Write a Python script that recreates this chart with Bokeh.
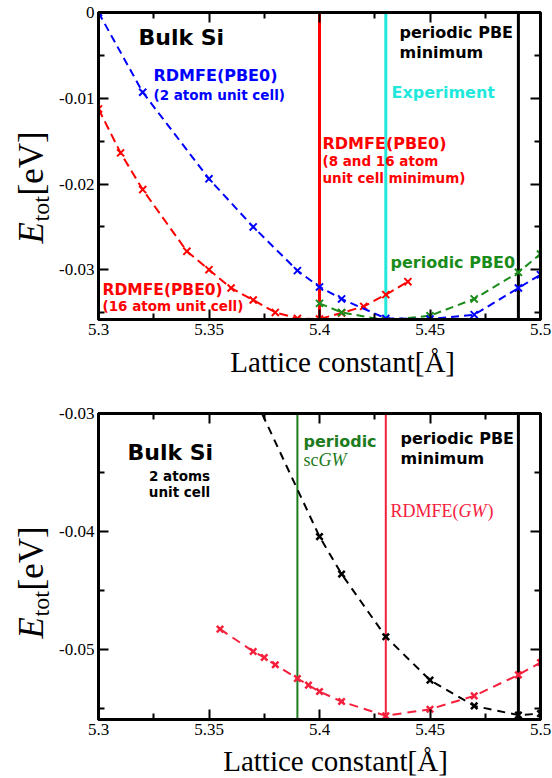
import math
from bokeh.plotting import figure
from bokeh.layouts import column, row
from bokeh.models import Range1d, FixedTicker, CustomJSTickFormatter, LinearAxis, Span, Label
from bokeh.embed import file_html
from bokeh.resources import INLINE

# ---------------- data ----------------
# top panel
a_2atom = [5.30, 5.32, 5.35, 5.37, 5.39, 5.40, 5.41, 5.43, 5.45, 5.47, 5.49, 5.50]
e_2atom = [0.0, -0.0093, -0.0194, -0.0250, -0.0301, -0.0320, -0.0334, -0.03567, -0.03575, -0.03524, -0.03213, -0.03057]

a_16atom = [5.30, 5.31, 5.32, 5.34, 5.35, 5.36, 5.37, 5.38, 5.39, 5.40, 5.41, 5.42, 5.43, 5.44]
e_16atom = [-0.01124, -0.01637, -0.02065, -0.02785, -0.02999, -0.03213, -0.03353, -0.03497, -0.03567, -0.03574,
            -0.03504, -0.03427, -0.0329, -0.03139]

a_pbe0 = [5.40, 5.41, 5.43, 5.45, 5.47, 5.49, 5.50]
e_pbe0 = [-0.03392, -0.03497, -0.0359, -0.03536, -0.0334, -0.0303, -0.02816]

vline_top_rdmfe = 5.40
vline_top_exp = 5.43
vline_top_pbe = 5.49

# bottom panel
a_pbe = [5.35, 5.40, 5.41, 5.43, 5.45, 5.47, 5.49, 5.50]
e_pbe = [-0.0204, -0.04042, -0.04359, -0.0489, -0.05257, -0.05475, -0.05553, -0.0554]

a_rgw = [5.355, 5.37, 5.375, 5.38, 5.39, 5.395, 5.40, 5.41, 5.43, 5.45, 5.47, 5.49, 5.50]
e_rgw = [-0.04825, -0.05014, -0.05065, -0.05127, -0.05243, -0.05299, -0.05353, -0.05438, -0.05559, -0.05503,
         -0.0539, -0.05212, -0.05108]

vline_bot_scgw = 5.39
vline_bot_rgw = 5.43
vline_bot_pbe = 5.49

# ticks
x_major = [5.3, 5.35, 5.4, 5.45, 5.5]
x_minor = [5.325, 5.375, 5.425, 5.475]
y1_major = [0.0, -0.01, -0.02, -0.03]
y1_minor = [-0.005, -0.015, -0.025, -0.035]
y2_major = [-0.03, -0.04, -0.05]
y2_minor = [-0.035, -0.045, -0.055]

X_RANGE = (5.3, 5.5)
Y1_RANGE = (-0.0358, 0.0)
Y2_RANGE = (-0.0559, -0.03)

# ---------------- styling ----------------
BLUE = "#0000ff"
RED = "#ff0000"
GREEN = "#1a8c1a"
CYAN = "#22e8dc"
PINK = "#f5203c"
DGREEN = "#1e7b1e"
SANS = "DejaVu Sans"
SERIF = "Liberation Serif"

YLAB_W = 56          # width of the y-title strip
MAIN_W = 496         # width of each main figure
BL, BR = 42, 12      # borders left/right of main figures -> frame x 98..540
FRAME_X0 = YLAB_W + BL
FRAME_X1 = YLAB_W + MAIN_W - BR


def make_fig(height, bt, bb, yr, ymaj, ymin):
    p = figure(width=MAIN_W, height=height, x_range=Range1d(*X_RANGE), y_range=Range1d(*yr),
               output_backend="svg", toolbar_location=None,
               min_border_left=BL, min_border_right=BR, min_border_top=bt, min_border_bottom=bb)
    p.xgrid.visible = False
    p.ygrid.visible = False
    p.outline_line_color = "black"
    p.outline_line_width = 3
    p.background_fill_color = "white"
    p.border_fill_color = "white"
    fmt = CustomJSTickFormatter(code="return String(parseFloat(tick.toFixed(3)));")
    blank = CustomJSTickFormatter(code="return '';")
    p.add_layout(LinearAxis(), "above")
    p.add_layout(LinearAxis(), "right")
    for ax in p.xaxis:
        ax.ticker = FixedTicker(ticks=x_major, minor_ticks=x_minor)
    for ax in p.yaxis:
        ax.ticker = FixedTicker(ticks=ymaj, minor_ticks=ymin)
    for ax in p.axis:
        ax.formatter = fmt
        ax.axis_line_width = 3
        ax.axis_line_color = "black"
        ax.major_tick_in = 10
        ax.major_tick_out = 0
        ax.minor_tick_in = 6
        ax.minor_tick_out = 0
        ax.major_tick_line_width = 2
        ax.minor_tick_line_width = 2
        ax.major_tick_line_color = "black"
        ax.minor_tick_line_color = "black"
        ax.major_label_text_font = SERIF
        ax.major_label_text_font_size = "17px"
        ax.major_label_text_color = "black"
        ax.major_label_standoff = 4
    for ax in p.above + p.right:
        ax.formatter = blank
        ax.major_label_text_font_size = "0px"
        ax.major_label_standoff = 0
    return p


def strip(w, h):
    """plain figure whose data units are pixels from its top-left corner; used for axis titles"""
    s = figure(width=w, height=h, x_range=Range1d(0, w), y_range=Range1d(h, 0),
               output_backend="svg", toolbar_location=None, x_axis_type=None, y_axis_type=None,
               min_border=0, min_border_left=0, min_border_right=0, min_border_top=0, min_border_bottom=0)
    s.xgrid.visible = False
    s.ygrid.visible = False
    s.outline_line_color = None
    s.background_fill_color = "white"
    s.border_fill_color = "white"
    return s


def conv(frame_top, frame_bot, yr):
    """image px -> data, for annotations inside a main figure"""
    def dx(px):
        return X_RANGE[0] + (px - FRAME_X0) / (FRAME_X1 - FRAME_X0) * (X_RANGE[1] - X_RANGE[0])

    def dy(py):
        return yr[1] - (py - frame_top) / (frame_bot - frame_top) * (yr[1] - yr[0])
    return dx, dy


def txt(p, dx, dy, px, py, text, color="black", size="16px", font=SANS, style="bold",
        align="left", baseline="middle", angle=0.0):
    p.add_layout(Label(x=dx(px), y=dy(py), text=text, text_color=color, text_font_size=size,
                       text_font=font, text_font_style=style, text_align=align,
                       text_baseline=baseline, angle=angle))


def curve(p, xs, ys, color, dash="8 5", size=10, lw=2):
    p.line(xs, ys, line_color=color, line_width=2, line_dash=dash)
    p.scatter(xs, ys, marker="x", size=size, line_color=color, line_width=lw)


ident = lambda v: v


def ytitle(s, y_start):
    # rotated pieces: E (italic), subscript tot, [eV]; x is the vertical centre line of each piece
    txt(s, ident, ident, 31, y_start, "E", size="35px", font=SERIF, style="italic", angle=math.pi / 2)
    txt(s, ident, ident, 40, y_start - 22, "tot", size="24px", font=SERIF, style="normal", angle=math.pi / 2)
    txt(s, ident, ident, 31, y_start - 48, "[eV]", size="35px", font=SERIF, style="normal", angle=math.pi / 2)


def xtitle(s, cx, cy):
    txt(s, ident, ident, cx, cy, "Lattice constant[Å]", size="29px", font=SERIF, style="normal",
        align="center")


# ---------------- top panel (image y 0..385) ----------------
T1_TOP, T1_FRAME_H, T1_BOT = 12, 307, 26
p1 = make_fig(T1_TOP + T1_FRAME_H + T1_BOT, T1_TOP, T1_BOT, Y1_RANGE, y1_major, y1_minor)
for loc, col in [(vline_top_rdmfe, RED), (vline_top_exp, CYAN), (vline_top_pbe, "black")]:
    p1.add_layout(Span(location=loc, dimension="height", line_color=col, line_width=3, level="underlay"))
curve(p1, a_16atom, e_16atom, RED, dash="9 5")
curve(p1, a_pbe0, e_pbe0, GREEN)
curve(p1, a_2atom, e_2atom, BLUE)

dx1, dy1 = conv(12, 319, Y1_RANGE)
txt(p1, dx1, dy1, 138, 37, "Bulk Si", size="22px")
txt(p1, dx1, dy1, 153, 75, "RDMFE(PBE0)", BLUE, "16px")
txt(p1, dx1, dy1, 153, 94, "(2 atom unit cell)", BLUE, "13.5px")
txt(p1, dx1, dy1, 399, 32, "periodic PBE", "black", "16px")
txt(p1, dx1, dy1, 399, 52, "minimum", "black", "16px")
txt(p1, dx1, dy1, 391, 92, "Experiment", CYAN, "16px")
txt(p1, dx1, dy1, 322, 143, "RDMFE(PBE0)", RED, "16px")
txt(p1, dx1, dy1, 322, 160, "(8 and 16 atom", RED, "13.5px")
txt(p1, dx1, dy1, 322, 177, "unit cell minimum)", RED, "13.5px")
txt(p1, dx1, dy1, 390, 262, "periodic PBE0", GREEN, "16px")
txt(p1, dx1, dy1, 102, 289, "RDMFE(PBE0)", RED, "15.5px")
txt(p1, dx1, dy1, 102, 305, "(16 atom unit cell)", RED, "13.5px")

H1 = 385
ylab1 = strip(YLAB_W, H1)
ytitle(ylab1, 243)
xlab1 = strip(MAIN_W, H1 - p1.height)
xtitle(xlab1, 330 - YLAB_W, 361 - p1.height)

# ---------------- bottom panel (image y 385..778) ----------------
T2_TOP, T2_FRAME_H, T2_BOT = 28, 306, 24
p2 = make_fig(T2_TOP + T2_FRAME_H + T2_BOT, T2_TOP, T2_BOT, Y2_RANGE, y2_major, y2_minor)
for loc, col, lw in [(vline_bot_scgw, DGREEN, 2), (vline_bot_rgw, PINK, 2), (vline_bot_pbe, "black", 3)]:
    p2.add_layout(Span(location=loc, dimension="height", line_color=col, line_width=lw, level="underlay"))
curve(p2, a_pbe, e_pbe, "black", dash="8 6", size=9, lw=2.5)
curve(p2, a_rgw, e_rgw, PINK, dash="9 6", size=9, lw=2.5)

dx2, dy2 = conv(413, 719, Y2_RANGE)
txt(p2, dx2, dy2, 127, 452, "Bulk Si", size="22px")
txt(p2, dx2, dy2, 179, 475, "2 atoms", size="13.5px", align="center")
txt(p2, dx2, dy2, 179, 491, "unit cell", size="13.5px", align="center")
txt(p2, dx2, dy2, 303, 441, "periodic", DGREEN, "16px")
txt(p2, dx2, dy2, 303, 459, "sc", DGREEN, "18px", font=SERIF, style="normal")
txt(p2, dx2, dy2, 318, 459, "GW", DGREEN, "18px", font=SERIF, style="italic")
txt(p2, dx2, dy2, 400, 438, "periodic PBE", "black", "16px")
txt(p2, dx2, dy2, 400, 458, "minimum", "black", "16px")
txt(p2, dx2, dy2, 390, 510, "RDMFE(", PINK, "18px", font=SERIF, style="normal")
txt(p2, dx2, dy2, 458, 510, "GW", PINK, "18px", font=SERIF, style="italic")
txt(p2, dx2, dy2, 487, 510, ")", PINK, "18px", font=SERIF, style="normal")

H2 = 393
ylab2 = strip(YLAB_W, H2)
ytitle(ylab2, 638 - H1)
xlab2 = strip(MAIN_W, H2 - p2.height)
xtitle(xlab2, 322 - YLAB_W, 760 - H1 - p2.height)

layout = column(
    row(ylab1, column(p1, xlab1, spacing=0), spacing=0),
    row(ylab2, column(p2, xlab2, spacing=0), spacing=0),
    spacing=0,
)
open("out.html", "w").write(file_html(layout, INLINE))
